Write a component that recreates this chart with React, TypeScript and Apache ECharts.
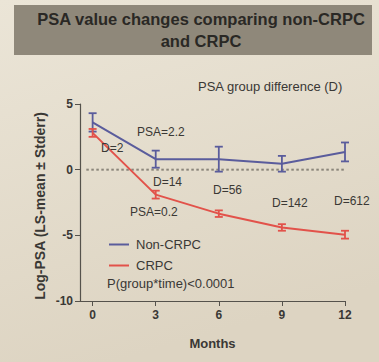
import React, { useEffect, useRef } from "react";
import * as echarts from "echarts";

const months = [0, 3, 6, 9, 12];
const nonCrpcMean = [3.6, 0.8, 0.8, 0.45, 1.35];
const nonCrpcErr = [0.7, 0.65, 0.95, 0.6, 0.72];
const crpcMean = [2.8, -1.9, -3.35, -4.4, -4.95];
const crpcErr = [0.3, 0.3, 0.25, 0.25, 0.3];
const xTicks = [0, 3, 6, 9, 12];
const zeroLineX = [-0.3, 12];
const zeroLineY = 0;

const BLUE = "#5a5c9c";
const RED = "#e2524a";
const TXT = "#3a3835";

function errData(mean: number[], err: number[]) {
  return months.map((m, i) => [m, mean[i] - err[i], mean[i] + err[i]]);
}

function errSeries(name: string, mean: number[], err: number[], color: string) {
  return {
    type: "custom",
    name: name + "-err",
    data: errData(mean, err),
    encode: { x: 0, y: [1, 2] },
    z: 4,
    renderItem: (params: any, api: any) => {
      const x = api.value(0);
      const lo = api.coord([x, api.value(1)]);
      const hi = api.coord([x, api.value(2)]);
      const w = 4;
      const st = { stroke: color, lineWidth: 1.8 };
      return {
        type: "group",
        children: [
          { type: "line", shape: { x1: hi[0], y1: hi[1], x2: lo[0], y2: lo[1] }, style: st },
          { type: "line", shape: { x1: hi[0] - w, y1: hi[1], x2: hi[0] + w, y2: hi[1] }, style: st },
          { type: "line", shape: { x1: lo[0] - w, y1: lo[1], x2: lo[0] + w, y2: lo[1] }, style: st },
        ],
      };
    },
  };
}

const txt = (text: string, x: number, y: number, size = 12, extra: any = {}) => ({
  type: "text",
  x,
  y,
  z: 10,
  style: {
    text,
    fill: TXT,
    font: `${size}px "Liberation Sans", Arial, sans-serif`,
    textVerticalAlign: "middle",
    ...extra,
  },
});

export default function App() {
  const ref = useRef<HTMLDivElement>(null);
  useEffect(() => {
    const chart = echarts.init(ref.current!, undefined, { renderer: "svg" });
    chart.setOption({
      animation: false,
      backgroundColor: {
        type: "linear",
        x: 0,
        y: 0,
        x2: 0.3,
        y2: 1,
        colorStops: [
          { offset: 0, color: "#ebe5d7" },
          { offset: 1, color: "#ddd4c2" },
        ],
      },
      grid: { left: 80, right: 34, top: 104, bottom: 61 },
      xAxis: {
        type: "value",
        min: -0.6,
        max: 12,
        splitLine: { show: false },
        axisLine: { onZero: false, lineStyle: { color: "#55524c", width: 1.2 } },
        axisTick: { customValues: xTicks, length: 5, lineStyle: { color: "#55524c" } },
        axisLabel: {
          customValues: xTicks,
          color: TXT,
          fontWeight: "bold",
          fontSize: 12,
          fontFamily: "Liberation Sans",
          margin: 8,
        },
        name: "Months",
        nameLocation: "middle",
        nameGap: 36,
        nameTextStyle: { color: TXT, fontWeight: "bold", fontSize: 13, fontFamily: "Liberation Sans" },
      },
      yAxis: {
        type: "value",
        min: -10,
        max: 5,
        interval: 5,
        splitLine: { show: false },
        axisLine: { show: true, onZero: false, lineStyle: { color: "#55524c", width: 1.2 } },
        axisTick: { show: true, length: 5, lineStyle: { color: "#55524c" } },
        axisLabel: {
          color: TXT,
          fontWeight: "bold",
          fontSize: 12,
          fontFamily: "Liberation Sans",
          margin: 7,
        },
      },
      legend: {
        orient: "vertical",
        left: 104,
        top: 233,
        itemWidth: 20,
        itemHeight: 2,
        itemGap: 8,
        icon: "rect",
        data: ["Non-CRPC", "CRPC"],
        textStyle: { color: TXT, fontSize: 13, fontFamily: "Liberation Sans", padding: [0, 0, 0, 2] },
      },
      series: [
        {
          type: "custom",
          name: "zero",
          silent: true,
          data: [[zeroLineX[0], zeroLineX[1], zeroLineY]],
          encode: { x: [0, 1], y: 2 },
          z: 2,
          renderItem: (params: any, api: any) => {
            const a = api.coord([api.value(0), api.value(2)]);
            const b = api.coord([api.value(1), api.value(2)]);
            const children: any[] = [];
            for (let px = a[0]; px < b[0]; px += 5) {
              children.push({
                type: "rect",
                shape: { x: px, y: a[1] - 1, width: 2.5, height: 2 },
                style: { fill: "#8a857a" },
              });
            }
            return { type: "group", children };
          },
        },
        {
          type: "line",
          name: "Non-CRPC",
          data: months.map((m, i) => [m, nonCrpcMean[i]]),
          symbol: "none",
          lineStyle: { color: BLUE, width: 2 },
          itemStyle: { color: BLUE },
          z: 3,
        },
        {
          type: "line",
          name: "CRPC",
          data: months.map((m, i) => [m, crpcMean[i]]),
          symbol: "none",
          lineStyle: { color: RED, width: 2 },
          itemStyle: { color: RED },
          z: 3,
        },
        errSeries("Non-CRPC", nonCrpcMean, nonCrpcErr, BLUE),
        errSeries("CRPC", crpcMean, crpcErr, RED),
      ],
      graphic: [
        { type: "rect", shape: { x: 14, y: 5, width: 358, height: 50 }, style: { fill: "#8f887a" }, z: 1 },
        {
          type: "text",
          x: 201,
          y: 19,
          z: 10,
          style: {
            text: "PSA value changes comparing non-CRPC",
            fill: "#2a2825",
            font: 'bold 16.5px "Liberation Sans", Arial, sans-serif',
            textAlign: "center",
            textVerticalAlign: "middle",
          },
        },
        {
          type: "text",
          x: 201,
          y: 41,
          z: 10,
          style: {
            text: "and CRPC",
            fill: "#2a2825",
            font: 'bold 16.5px "Liberation Sans", Arial, sans-serif',
            textAlign: "center",
            textVerticalAlign: "middle",
          },
        },
        {
          type: "text",
          x: 40,
          y: 206,
          rotation: Math.PI / 2,
          z: 10,
          style: {
            text: "Log-PSA (LS-mean ± Stderr)",
            fill: TXT,
            font: 'bold 14px "Liberation Sans", Arial, sans-serif',
            textAlign: "center",
            textVerticalAlign: "middle",
          },
        },
        txt("PSA group difference (D)", 198, 86, 13),
        txt("PSA=2.2", 137, 132),
        txt("D=2", 101, 148),
        txt("D=14", 153, 182),
        txt("PSA=0.2", 130, 212),
        txt("D=56", 213, 190),
        txt("D=142", 272, 203),
        txt("D=612", 334, 201),
        txt("P(group*time)<0.0001", 107, 283, 13),
      ],
    });
    return () => chart.dispose();
  }, []);
  return (
    <div
      ref={ref}
      style={{ position: "fixed", left: 0, top: 0, width: 379, height: 362 }}
    />
  );
}
